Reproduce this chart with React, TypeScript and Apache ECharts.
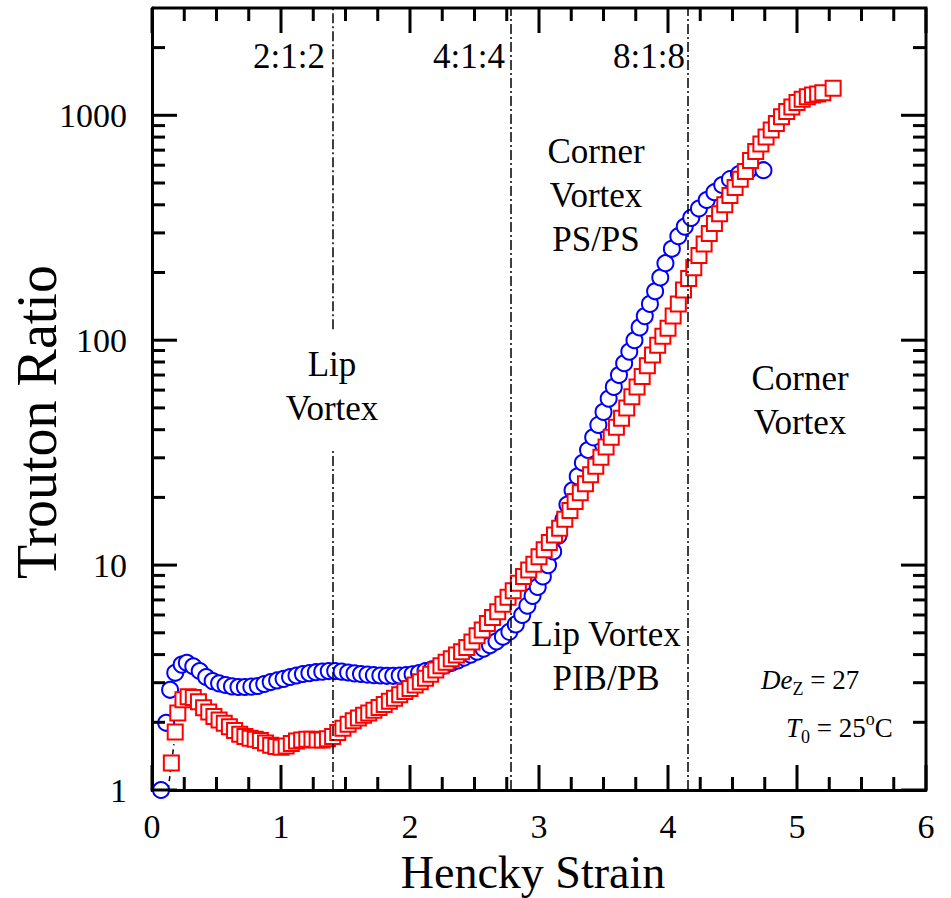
import React, { useEffect, useRef } from "react";
import * as echarts from "echarts";

const SERIF = "Liberation Serif, Times New Roman, serif";

// Hencky strain, Trouton ratio (circles, blue)
const bluePoints: [number, number][] = [
  [0.07, 1.0], [0.11, 1.99], [0.14, 2.79], [0.18, 3.32], [0.23, 3.61], [0.27, 3.68],
  [0.32, 3.55], [0.37, 3.38], [0.42, 3.18], [0.47, 3.05], [0.52, 2.98], [0.57, 2.93],
  [0.62, 2.89], [0.67, 2.87], [0.72, 2.87], [0.77, 2.88], [0.82, 2.9], [0.87, 2.96],
  [0.92, 3.02], [0.97, 3.07], [1.02, 3.12], [1.07, 3.18], [1.12, 3.23], [1.17, 3.28],
  [1.22, 3.31], [1.27, 3.34], [1.32, 3.36], [1.37, 3.38], [1.42, 3.38], [1.47, 3.36],
  [1.52, 3.33], [1.57, 3.3], [1.62, 3.28], [1.67, 3.26], [1.72, 3.24], [1.77, 3.23],
  [1.82, 3.22], [1.87, 3.22], [1.92, 3.23], [1.97, 3.24], [2.02, 3.27], [2.07, 3.31],
  [2.12, 3.38], [2.17, 3.44], [2.22, 3.5], [2.27, 3.58], [2.32, 3.67], [2.37, 3.77],
  [2.42, 3.88], [2.47, 4.0], [2.52, 4.12], [2.57, 4.25], [2.62, 4.4], [2.67, 4.58],
  [2.72, 4.8], [2.77, 5.05], [2.82, 5.45], [2.87, 6.0], [2.91, 6.6], [2.95, 7.3],
  [2.99, 8.0], [3.03, 8.9], [3.07, 10.0], [3.11, 11.5], [3.15, 13.5], [3.19, 16.0],
  [3.22, 18.6], [3.26, 21.5], [3.3, 24.8], [3.34, 28.5], [3.38, 32.5], [3.42, 37.0],
  [3.46, 42.0], [3.5, 48.0], [3.54, 55.0], [3.58, 62.0], [3.62, 70.0], [3.66, 79.0],
  [3.7, 89.0], [3.74, 100], [3.78, 114], [3.82, 128], [3.86, 145], [3.9, 165],
  [3.94, 190], [3.98, 220], [4.03, 255], [4.08, 290], [4.13, 320], [4.18, 350],
  [4.24, 385], [4.3, 420], [4.36, 455], [4.42, 490], [4.48, 520], [4.55, 548],
  [4.62, 565], [4.74, 570],
];

// Hencky strain, Trouton ratio (squares, red)
const redPoints: [number, number][] = [
  [0.15, 1.32], [0.18, 1.81], [0.2, 2.2], [0.24, 2.52], [0.28, 2.6], [0.32, 2.58],
  [0.36, 2.47], [0.4, 2.32], [0.44, 2.22], [0.48, 2.12], [0.52, 2.05], [0.56, 1.98],
  [0.6, 1.91], [0.64, 1.84], [0.68, 1.77], [0.72, 1.73], [0.76, 1.7], [0.8, 1.68],
  [0.84, 1.66], [0.88, 1.62], [0.92, 1.58], [0.96, 1.56], [1.0, 1.55], [1.04, 1.57],
  [1.08, 1.61], [1.12, 1.65], [1.16, 1.67], [1.2, 1.68], [1.24, 1.68], [1.28, 1.67],
  [1.32, 1.67], [1.36, 1.69], [1.4, 1.73], [1.44, 1.8], [1.48, 1.88], [1.52, 1.96],
  [1.56, 2.03], [1.6, 2.09], [1.64, 2.15], [1.68, 2.2], [1.72, 2.26], [1.76, 2.33],
  [1.8, 2.4], [1.84, 2.48], [1.88, 2.56], [1.92, 2.65], [1.96, 2.74], [2.0, 2.83],
  [2.04, 2.93], [2.08, 3.03], [2.12, 3.14], [2.16, 3.27], [2.2, 3.42], [2.24, 3.57],
  [2.28, 3.7], [2.32, 3.83], [2.36, 3.98], [2.4, 4.12], [2.44, 4.3], [2.48, 4.55],
  [2.52, 4.85], [2.56, 5.15], [2.6, 5.5], [2.64, 5.85], [2.68, 6.2], [2.72, 6.7],
  [2.76, 7.2], [2.8, 7.7], [2.84, 8.3], [2.88, 8.9], [2.92, 9.5], [2.96, 10.1],
  [3.0, 10.9], [3.04, 11.7], [3.08, 12.6], [3.12, 13.6], [3.16, 14.6], [3.2, 16.0],
  [3.24, 17.5], [3.28, 19.2], [3.32, 21.0], [3.36, 23.0], [3.4, 25.2], [3.44, 27.5],
  [3.48, 30.2], [3.52, 33.5], [3.56, 37.0], [3.6, 41.0], [3.64, 45.0], [3.68, 50.0],
  [3.72, 56.0], [3.76, 62.0], [3.8, 69.0], [3.84, 77.0], [3.88, 86.0], [3.92, 95.0],
  [3.96, 104], [4.0, 113], [4.04, 128], [4.08, 145], [4.12, 167], [4.16, 188],
  [4.2, 210], [4.24, 238], [4.28, 268], [4.32, 298], [4.36, 330], [4.4, 365],
  [4.44, 400], [4.48, 440], [4.52, 478], [4.56, 520], [4.6, 563], [4.64, 630],
  [4.68, 690], [4.72, 745], [4.76, 800], [4.8, 860], [4.84, 920], [4.88, 985],
  [4.92, 1040], [4.96, 1090], [5.0, 1140], [5.04, 1180], [5.08, 1210], [5.12, 1230],
  [5.16, 1245], [5.2, 1260], [5.28, 1320],
];

// short dashed guide near the origin
const startGuide: [number, number][] = [[0.125, 1.0], [0.17, 1.6]];

// vertical dash-dot separators: [Hencky strain, from ratio, to ratio]
const separatorSegments: [number, number, number][] = [
  [1.4, 1, 33],
  [1.4, 112, 3000],
  [2.78, 1, 3000],
  [4.15, 1, 3000],
];

const xMin = 0;
const xMax = 6;
const yMin = 1;
const yMax = 3000;
const xMajorTicks = [0, 1, 2, 3, 4, 5, 6];
const xMinorTicks = [
  0.25, 0.5, 0.75, 1.25, 1.5, 1.75, 2.25, 2.5, 2.75, 3.25, 3.5, 3.75,
  4.25, 4.5, 4.75, 5.25, 5.5, 5.75,
];
const yMajorTicks = [1, 10, 100, 1000];
const yMinorTicks = [
  2, 3, 4, 5, 6, 7, 8, 9, 20, 30, 40, 50, 60, 70, 80, 90,
  200, 300, 400, 500, 600, 700, 800, 900, 2000,
];

const MAJOR_LEN = 25;
const MINOR_LEN = 13;

export default function App() {
  const ref = useRef<HTMLDivElement>(null);

  useEffect(() => {
    if (!ref.current) return;
    const chart = echarts.init(ref.current, null, { renderer: "svg" });

    const lineStyle = { stroke: "#000", lineWidth: 3, fill: "none" };

    const textEl = (
      text: string,
      x: number,
      y: number,
      size: number,
      align: string = "center"
    ) => ({
      type: "text",
      x,
      y,
      z: 100,
      silent: true,
      style: {
        text,
        fill: "#000",
        fontSize: size,
        fontFamily: SERIF,
        align,
        textAlign: align,
        verticalAlign: "middle",
        textVerticalAlign: "middle",
        lineHeight: Math.round(size * 1.25),
      },
    });

    const richEl = (text: string, x: number, y: number) => ({
      type: "text",
      x,
      y,
      z: 100,
      silent: true,
      style: {
        text,
        fill: "#000",
        fontSize: 27,
        fontFamily: SERIF,
        align: "left",
        textAlign: "left",
        verticalAlign: "middle",
        textVerticalAlign: "middle",
        rich: {
          i: { fontSize: 27, fontFamily: SERIF, fontStyle: "italic", lineHeight: 36, fill: "#000", color: "#000" },
          n: { fontSize: 27, fontFamily: SERIF, lineHeight: 36, fill: "#000", color: "#000" },
          sub: { fontSize: 18, fontFamily: SERIF, lineHeight: 12, verticalAlign: "bottom", fill: "#000", color: "#000" },
          sup: { fontSize: 18, fontFamily: SERIF, lineHeight: 22, verticalAlign: "top", fill: "#000", color: "#000" },
        },
      },
    });

    const option: any = {
      animation: false,
      backgroundColor: "#fff",
      grid: { left: 152, right: 25, top: 8, bottom: 108, containLabel: false },
      xAxis: {
        type: "value",
        min: xMin,
        max: xMax,
        interval: 1,
        position: "bottom",
        axisLine: { show: true, onZero: false, lineStyle: { color: "#000", width: 3 } },
        axisTick: { show: false },
        minorTick: { show: false },
        splitLine: { show: false },
        axisLabel: { show: true, color: "#000", fontSize: 34, fontFamily: SERIF, margin: 19 },
      },
      yAxis: {
        type: "log",
        logBase: 10,
        min: yMin,
        max: yMax,
        position: "left",
        axisLine: { show: true, onZero: false, lineStyle: { color: "#000", width: 3 } },
        axisTick: { show: false },
        minorTick: { show: false },
        splitLine: { show: false },
        axisLabel: {
          show: true,
          color: "#000",
          fontSize: 34,
          fontFamily: SERIF,
          margin: 25,
          showMaxLabel: false,
          formatter: (v: number) => {
            const r = Math.round(v);
            return yMajorTicks.includes(r) ? String(r) : "";
          },
        },
      },
      series: [
        {
          type: "line",
          name: "guide",
          data: startGuide,
          showSymbol: false,
          symbol: "none",
          silent: true,
          z: 1,
          lineStyle: { color: "#000", width: 1.5, type: [5, 4] },
        },
        {
          type: "scatter",
          name: "circles",
          data: bluePoints,
          symbol: "circle",
          symbolSize: 16,
          z: 3,
          itemStyle: { color: "#fff", borderColor: "#0000ff", borderWidth: 2, opacity: 1 },
        },
        {
          type: "scatter",
          name: "squares",
          data: redPoints,
          symbol: "rect",
          symbolSize: 15,
          z: 4,
          itemStyle: { color: "#fff", borderColor: "#ff0000", borderWidth: 2, opacity: 1 },
        },
        {
          type: "line",
          name: "separators",
          data: [],
          z: 10,
          markLine: {
            silent: true,
            symbol: "none",
            animation: false,
            label: { show: false },
            lineStyle: { color: "#000", width: 1.5, type: [10, 3, 2, 3] },
            data: separatorSegments.map(([x, y1, y2]) => [
              { coord: [x, y1] },
              { coord: [x, y2] },
            ]),
          },
        },
        {
          type: "custom",
          name: "frame",
          coordinateSystem: "cartesian2d",
          silent: true,
          clip: false,
          zlevel: 1,
          z: 200,
          data: [[xMax, yMax]],
          renderItem: (params: any, api: any) => {
            const tl = api.coord([xMin, yMax]);
            const tr = api.coord([xMax, yMax]);
            const br = api.coord([xMax, yMin]);
            return {
              type: "polyline",
              shape: { points: [tl, tr, br] },
              style: lineStyle,
            };
          },
        },
        {
          type: "custom",
          name: "yTicks",
          coordinateSystem: "cartesian2d",
          silent: true,
          clip: false,
          zlevel: 1,
          z: 200,
          data: [...yMajorTicks, ...yMinorTicks].map((v) => [xMin, v]),
          renderItem: (params: any, api: any) => {
            const v = api.value(1);
            const pl = api.coord([xMin, v]);
            const pr = api.coord([xMax, v]);
            const len = yMajorTicks.includes(v) ? MAJOR_LEN : MINOR_LEN;
            return {
              type: "group",
              children: [
                { type: "polyline", shape: { points: [[pl[0], pl[1]], [pl[0] + len, pl[1]]] }, style: lineStyle },
                { type: "polyline", shape: { points: [[pr[0] - len, pr[1]], [pr[0], pr[1]]] }, style: lineStyle },
              ],
            };
          },
        },
        {
          type: "custom",
          name: "xTicks",
          coordinateSystem: "cartesian2d",
          silent: true,
          clip: false,
          zlevel: 1,
          z: 200,
          data: [...xMajorTicks, ...xMinorTicks].map((v) => [v, yMin]),
          renderItem: (params: any, api: any) => {
            const v = api.value(0);
            const pb = api.coord([v, yMin]);
            const pt = api.coord([v, yMax]);
            const len = xMajorTicks.includes(v) ? MAJOR_LEN : MINOR_LEN;
            return {
              type: "group",
              children: [
                { type: "polyline", shape: { points: [[pb[0], pb[1]], [pb[0], pb[1] - len]] }, style: lineStyle },
                { type: "polyline", shape: { points: [[pt[0], pt[1]], [pt[0], pt[1] + len]] }, style: lineStyle },
              ],
            };
          },
        },
      ],
      graphic: [
        textEl("2:1:2", 325, 56, 35, "right"),
        textEl("4:1:4", 505, 56, 35, "right"),
        textEl("8:1:8", 685, 56, 35, "right"),
        textEl("Corner\nVortex\nPS/PS", 596, 195, 35),
        textEl("Lip\nVortex", 332, 386, 35),
        textEl("Corner\nVortex", 800, 400, 35),
        textEl("Lip Vortex\nPIB/PB", 606, 656, 35),
        richEl("{i|De}{sub|Z}{n| = 27}", 761, 680),
        richEl("{i|T}{sub|0}{n| = 25}{sup|o}{n|C}", 786, 728),
        textEl("Hencky Strain", 533, 872, 46),
        {
          ...textEl("Trouton Ratio", 0, 0, 56),
          x: 37,
          y: 422,
          rotation: Math.PI / 2,
        },
      ],
    };

    chart.setOption(option);
    return () => chart.dispose();
  }, []);

  return (
    <div
      ref={ref}
      style={{ position: "absolute", left: 0, top: 0, width: 951, height: 898 }}
    />
  );
}
